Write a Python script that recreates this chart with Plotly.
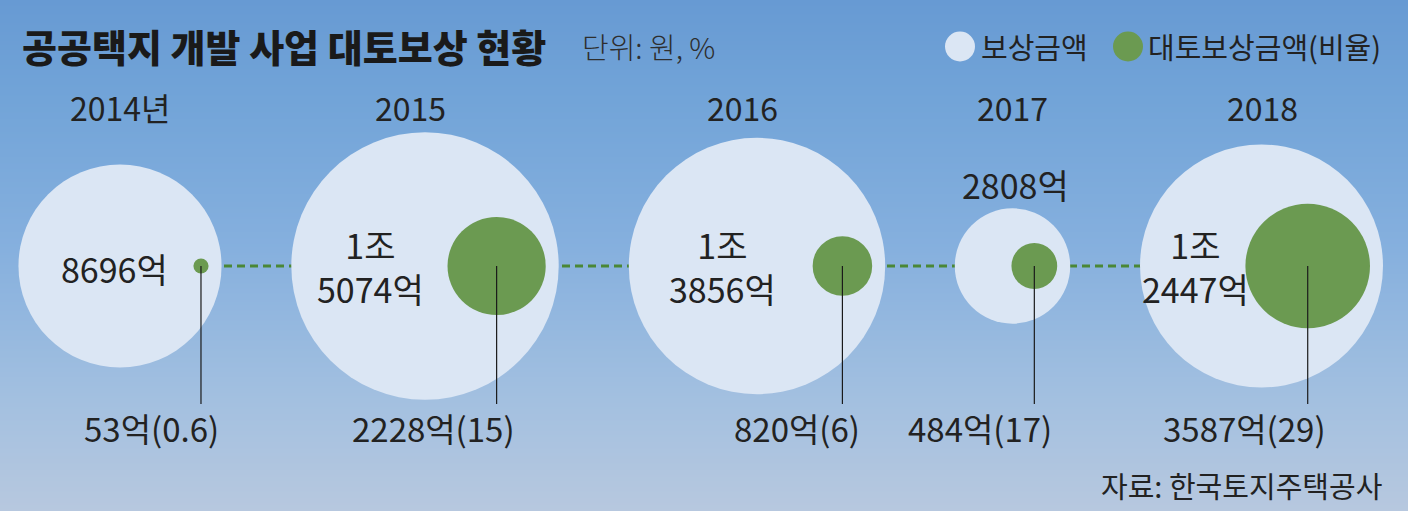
import math
import plotly.graph_objects as go

# ---- data ----
years = ["2014년", "2015", "2016", "2017", "2018"]
total_comp = [8696, 15074, 13856, 2808, 12447]          # 보상금액 (억원)
total_labels = ["8696억", "1조<br>5074억", "1조<br>3856억", "2808억", "1조<br>2447억"]
land_comp = [53, 2228, 820, 484, 3587]                   # 대토보상금액 (억원)
land_ratio = ["0.6", "15", "6", "17", "29"]              # 비율 (%)

# ---- layout (pixel space) ----
W, H = 1408, 511
CY = 266
x_pos = [120, 425, 757, 1012.5, 1261.5]
big_ref = 0.4216
small_ref = 0.4623
edge_gap = 13
amount_label_pos = [(114, 268), (370, 266), (722, 266), (1015, 184), (1195, 266)]
year_x = [120, 410, 742, 1012, 1262]

FONT = "Noto Sans CJK KR"
TXT = "#222222"
BIG_FILL = "#dbe6f4"
GREEN = "#6b9a51"

def radius(v, ref):
    # plotly bubble radius for sizemode='area'
    return math.sqrt(v / (2 * ref))

big_r = [radius(v, big_ref) for v in total_comp]
small_x = [x + rb - edge_gap - radius(v, small_ref) for x, rb, v in zip(x_pos, big_r, land_comp)]

fig = go.Figure()

# background gradient
bg_y = [0, 100, 250, 400, 511]
bg_vals = [0, 0.25, 0.5, 0.8, 1]
fig.add_trace(go.Heatmap(
    x=[0, W], y=bg_y, z=[[v, v] for v in bg_vals],
    colorscale=[[0, "#679ad3"], [0.25, "#72a4d8"], [0.5, "#86b0de"], [0.8, "#a3c0e0"], [1, "#b7c8df"]],
    showscale=False, zsmooth="best", hoverinfo="skip"))

# dashed connector
fig.add_trace(go.Scatter(
    x=[x_pos[0], x_pos[-1]], y=[CY, CY], mode="lines",
    line=dict(color="#4a8736", width=3, dash="8px,5px"), hoverinfo="skip", showlegend=False))

# total compensation circles
fig.add_trace(go.Scatter(
    x=x_pos, y=[CY] * len(x_pos), mode="markers",
    marker=dict(size=total_comp, sizemode="area", sizeref=big_ref, color=BIG_FILL,
                line=dict(width=0), opacity=1),
    hoverinfo="skip", showlegend=False))

# land compensation circles
fig.add_trace(go.Scatter(
    x=small_x, y=[CY] * len(small_x), mode="markers",
    marker=dict(size=land_comp, sizemode="area", sizeref=small_ref, color=GREEN,
                line=dict(width=0), opacity=1),
    hoverinfo="skip", showlegend=False))

# leader lines
lx, ly = [], []
for sx in small_x:
    lx += [sx, sx, None]
    ly += [CY, 404, None]
fig.add_trace(go.Scatter(x=lx, y=ly, mode="lines", line=dict(color="#1a1a1a", width=1.2),
                         hoverinfo="skip", showlegend=False))

# legend markers
fig.add_trace(go.Scatter(x=[960, 1128], y=[46.5, 46.5], mode="markers",
                         marker=dict(size=30, color=[BIG_FILL, GREEN], line=dict(width=0)),
                         hoverinfo="skip", showlegend=False))

ann = []
# title & unit
ann.append(dict(x=20, y=45, text="공공택지 개발 사업 대토보상 현황", xanchor="left", yanchor="middle",
                font=dict(family=FONT, size=38, color="#1a1a1a", weight=900)))
ann.append(dict(x=580, y=46, text="단위: 원, %", xanchor="left", yanchor="middle",
                font=dict(family=FONT, size=29, color="#2e2e2e", weight=300)))
# legend text
ann.append(dict(x=979, y=46, text="보상금액", xanchor="left", yanchor="middle",
                font=dict(family=FONT, size=29, color=TXT)))
ann.append(dict(x=1146, y=46, text="대토보상금액(비율)", xanchor="left", yanchor="middle",
                font=dict(family=FONT, size=29, color=TXT)))
# year labels
for yx, yr in zip(year_x, years):
    ann.append(dict(x=yx, y=107, text=yr, xanchor="center", yanchor="middle",
                    font=dict(family=FONT, size=32, color=TXT)))
# total amount labels
for (ax, ay), t in zip(amount_label_pos, total_labels):
    ann.append(dict(x=ax, y=ay, text=t, xanchor="center", yanchor="middle",
                    font=dict(family=FONT, size=34, color=TXT)))
# bottom labels
for sx, v, r in zip(small_x, land_comp, land_ratio):
    ann.append(dict(x=sx + 20, y=428, text=f"{v}억({r})", xanchor="right", yanchor="middle",
                    font=dict(family=FONT, size=33, color=TXT)))
# source
ann.append(dict(x=1384, y=485, text="자료: 한국토지주택공사", xanchor="right", yanchor="middle",
                font=dict(family=FONT, size=29, color=TXT)))

for a in ann:
    a.update(xref="x", yref="y", showarrow=False)

fig.update_layout(
    width=W, height=H, margin=dict(l=0, r=0, t=0, b=0),
    paper_bgcolor="#86b0de", plot_bgcolor="#86b0de",
    xaxis=dict(range=[0, W], visible=False, fixedrange=True),
    yaxis=dict(range=[H, 0], visible=False, fixedrange=True),
    annotations=ann, showlegend=False, hovermode=False)

fig.write_html("out.html", config={"displayModeBar": False},
               post_script="document.body.style.margin='0';document.body.style.overflow='hidden';")
